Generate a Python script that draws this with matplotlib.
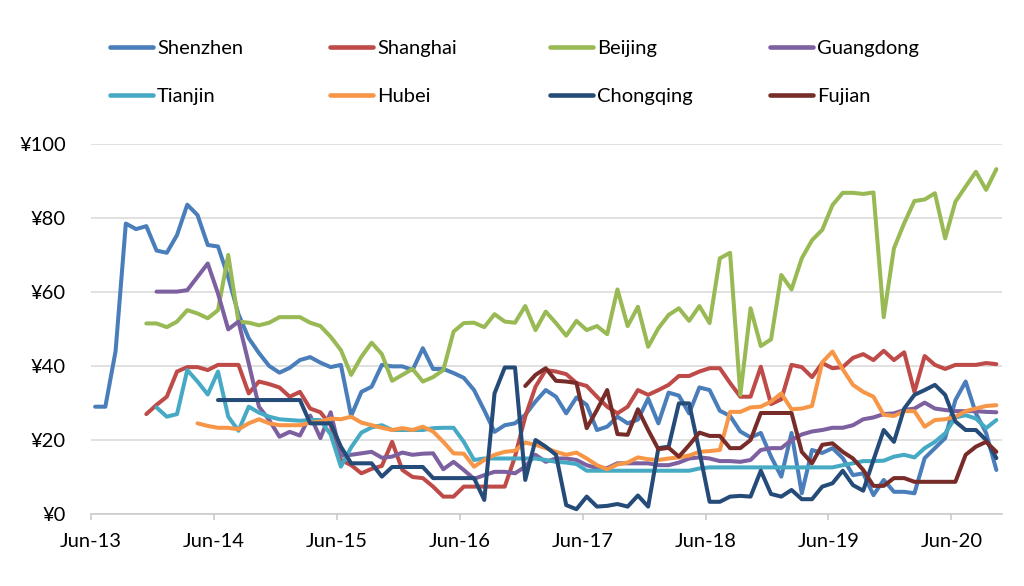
import numpy as np
import matplotlib
matplotlib.use("Agg")
import matplotlib.pyplot as plt

plt.rcParams['font.family'] = ['Lato', 'DejaVu Sans']

# ---- data (monthly, month index 0 = Jun-13) ----
tick_labels = ['Jun-13', 'Jun-14', 'Jun-15', 'Jun-16', 'Jun-17', 'Jun-18', 'Jun-19', 'Jun-20']
y_ticks = [0, 20, 40, 60, 80, 100]

shenzhen_start = 0
shenzhen = [29, 29, 44, 78.5, 77, 77.8, 71.2, 70.6, 75.4, 83.6,
            80.8, 72.7, 72.3, 64, 54, 47.5, 43.5, 40, 38.2, 39.5,
            41.6, 42.4, 40.9, 39.7, 40.3, 26.5, 33, 34.4, 40.3, 39.9,
            39.9, 38.9, 44.8, 39.2, 39.2, 38.1, 36.8, 33.5, 28, 22.2,
            24, 24.5, 26.8, 30.4, 33.5, 31.7, 27.2, 31.5, 29.5, 22.7,
            23.6, 26.3, 24.5, 25.5, 31.2, 24.5, 32.8, 32, 27.2, 34.2,
            33.5, 27.9, 26.5, 22.3, 20.7, 21.9, 15.5, 10.1, 21.9, 5.6,
            17.3, 16.5, 17.8, 15.1, 10.5, 11, 5.1, 9.2, 6, 6,
            5.6, 15.1, 17.8, 20.5, 30.8, 35.8, 27.2, 21.9, 11.9]

shanghai_start = 5
shanghai = [27, 29.5, 31.7, 38.5, 39.7, 39.7, 38.9, 40.3, 40.3, 40.3,
            32.6, 35.8, 35.1, 34.2, 31.7, 33, 28.5, 27.5, 24, 14.6,
            13.2, 11, 12.2, 13, 19.5, 11.9, 10, 9.7, 7.4, 4.7,
            4.7, 7.4, 7.4, 7.4, 7.4, 7.4, 15.5, 26.3, 34.4, 38.9,
            38.5, 37.8, 35.4, 34.6, 31.7, 29, 27.2, 29, 33.5, 32.2,
            33.5, 34.9, 37.3, 37.3, 38.5, 39.4, 39.4, 35.4, 31.7, 31.7,
            39.8, 29.7, 31, 40.3, 39.7, 37, 40.8, 39.4, 39.7, 42.2,
            43.2, 41.6, 44.1, 41.6, 43.7, 33, 42.7, 40.3, 39.2, 40.3,
            40.3, 40.3, 40.8, 40.5]

beijing_start = 5
beijing = [51.5, 51.5, 50.5, 52, 55.1, 54.2, 52.9, 55.1, 70, 52,
           51.7, 51, 51.7, 53.2, 53.2, 53.2, 51.7, 50.8, 47.9, 44.3,
           37.6, 42.5, 46.3, 43.2, 36, 37.6, 39.2, 35.8, 37, 38.9,
           49.3, 51.6, 51.7, 50.5, 54, 52, 51.7, 56.2, 49.7, 54.7,
           51.6, 48.2, 52.2, 49.7, 50.8, 48.6, 60.7, 50.8, 56, 45.2,
           50.2, 53.8, 55.6, 52.2, 56.2, 51.6, 69.1, 70.6, 32.2, 55.6,
           45.4, 47.2, 64.6, 60.7, 69.1, 74, 76.8, 83.5, 86.8, 86.8,
           86.5, 86.9, 53.2, 71.8, 78.6, 84.6, 85, 86.7, 74.5, 84.4,
           88.5, 92.5, 87.6, 93.2]

guangdong_start = 6
guangdong = [60.1, 60.1, 60.1, 60.5, 64.1, 67.7, 59.6, 49.9, 52, 40.7,
             29, 25.4, 20.9, 22.2, 21.2, 26.6, 20.5, 27.5, 15.8, 16,
             16.4, 16.8, 15.2, 15.5, 16.6, 16, 16.3, 16.4, 12.1, 14.1,
             11.9, 9.5, 10.5, 11.4, 11.4, 11, 12.8, 16, 14.1, 15,
             15, 14.6, 13.2, 12.4, 12.4, 13.7, 13.7, 13.7, 13.7, 13.2,
             13.2, 13.9, 15, 15.3, 15, 14.3, 14.3, 14.1, 14.6, 17.3,
             17.8, 17.8, 20, 21.5, 22.3, 22.7, 23.3, 23.3, 24, 25.6,
             26.1, 27, 27.2, 28.1, 28.5, 30.1, 28.5, 28.1, 27.8, 27.8,
             27.8, 27.6, 27.5]

tianjin_start = 6
tianjin = [28.8, 26.3, 27, 38.9, 35.8, 32.3, 38.5, 26.3, 22.5, 29,
           27.4, 26.3, 25.6, 25.4, 25.2, 25.4, 25.4, 21.5, 12.8, 18,
           22, 23.4, 24, 22.7, 22.7, 22.7, 22.7, 23.2, 23.3, 23.3,
           19.5, 14.6, 15, 15, 15, 15, 15, 15, 14.6, 14.1,
           13.9, 13.5, 11.7, 11.7, 11.7, 11.7, 11.7, 11.7, 11.7, 11.7,
           11.7, 11.7, 11.7, 12.3, 12.6, 12.6, 12.6, 12.6, 12.6, 12.6,
           12.6, 12.6, 12.6, 12.6, 12.6, 12.6, 12.6, 13.2, 13.7, 14.3,
           14.3, 14.4, 15.5, 16, 15.3, 17.8, 19.5, 21.8, 26.1, 26.7,
           25.8, 23.2, 25.4]

hubei_start = 10
hubei = [24.5, 23.8, 23.3, 23.3, 22.9, 24.5, 25.6, 24.5, 24, 24,
         24, 24.7, 25, 25.8, 25.6, 26.3, 24.7, 24, 23.3, 22.7,
         23.2, 22.7, 23.6, 22.3, 19.5, 16.4, 16.3, 12.8, 14.6, 16,
         16.8, 17.1, 19.3, 18.7, 17.8, 16.8, 16, 16.6, 15, 13.2,
         12.1, 13.4, 13.9, 15.3, 14.8, 14.6, 15, 15.3, 15.8, 16.8,
         17, 17.3, 27.6, 27.6, 28.8, 29, 30.4, 32.6, 28.3, 28.5,
         29.2, 41, 43.9, 39.1, 34.9, 33, 31.7, 26.8, 26.5, 27.8,
         27.8, 23.6, 25.4, 25.6, 26.3, 27.8, 28.5, 29.2, 29.4]

chongqing_start = 12
chongqing = [30.8, 30.8, 30.8, 30.8, 30.8, 30.8, 30.8, 30.8, 30.8, 24.5,
             24.5, 24.5, 18.2, 13.7, 13.7, 13.7, 10.1, 12.7, 12.7, 12.7,
             12.7, 9.7, 9.7, 9.7, 9.7, 9.7, 3.8, 32.6, 39.6, 39.6,
             9.2, 20, 18.2, 16, 2.4, 1.3, 4.7, 2, 2.2, 2.7,
             2, 5, 2, 17.8, 18.2, 29.9, 29.9, 17, 3.3, 3.3,
             4.7, 4.9, 4.7, 11.7, 5.4, 4.7, 6.5, 4, 4, 7.4,
             8.3, 11.7, 7.8, 6.3, 14.6, 22.7, 19.5, 28.5, 32.2, 33.5,
             34.9, 32.2, 25, 22.7, 22.7, 20, 15.1]

fujian_start = 42
fujian = [34.6, 37.6, 39.4, 36, 35.8, 35.4, 23.2, 28.1, 33.5, 21.6,
          21.4, 28.3, 22.7, 17.5, 17.9, 15.5, 18.6, 22, 21.1, 21.1,
          17.8, 17.8, 20, 27.3, 27.3, 27.3, 27.3, 16.8, 13.7, 18.7,
          19.1, 16.8, 15, 11.9, 7.6, 7.6, 9.7, 9.7, 8.7, 8.7,
          8.7, 8.7, 8.7, 16, 18.2, 19.5, 16.8]

series = [
    ('Shenzhen', shenzhen_start, shenzhen, '#4A7EBB'),
    ('Shanghai', shanghai_start, shanghai, '#BE4B48'),
    ('Beijing', beijing_start, beijing, '#98B954'),
    ('Guangdong', guangdong_start, guangdong, '#7D60A0'),
    ('Tianjin', tianjin_start, tianjin, '#46AAC5'),
    ('Hubei', hubei_start, hubei, '#F79646'),
    ('Chongqing', chongqing_start, chongqing, '#254B79'),
    ('Fujian', fujian_start, fujian, '#772C2A'),
]

W, H = 1024, 586
fig = plt.figure(figsize=(W / 100, H / 100), dpi=100)
ax = fig.add_axes([91 / W, (H - 514) / H, (1002 - 91) / W, (514 - 144) / H])

lines = {}
for name, start, vals, col in series:
    x = start + np.arange(len(vals)) + 0.4
    ln, = ax.plot(x, vals, color=col, lw=2.9, solid_joinstyle='round',
                  solid_capstyle='round', label=name, clip_on=False)
    lines[name] = ln

fs = 14.5
ax.set_xlim(0, 88.95)
ax.set_ylim(0, 100)
ax.set_yticks(y_ticks)
ax.set_yticklabels(['¥%d' % v for v in y_ticks])
ax.set_xticks(np.arange(len(tick_labels)) * 12)
ax.set_xticklabels(tick_labels)

ax.grid(axis='y', color='#D9D9D9', lw=1.1)
ax.set_axisbelow(True)
for s in ['top', 'right', 'left']:
    ax.spines[s].set_visible(False)
ax.spines['bottom'].set_color('#C8C8C8')
ax.spines['bottom'].set_linewidth(1.1)
ax.tick_params(axis='y', length=0, pad=18, labelsize=fs, colors='black')
ax.tick_params(axis='x', length=4, width=1.1, color='#C8C8C8', pad=9.5,
               labelsize=fs, labelcolor='black')

# legend: 4 columns x 2 rows, columns evenly spaced
cols = [['Shenzhen', 'Tianjin'], ['Shanghai', 'Hubei'],
        ['Beijing', 'Chongqing'], ['Guangdong', 'Fujian']]
fpx = fs * 100 / 72
for k, names in enumerate(cols):
    leg = fig.legend([lines[n] for n in names], names,
                     loc='upper left',
                     bbox_to_anchor=((110 + 220 * k) / W, 1 - 40 / H),
                     frameon=False, fontsize=fs, ncol=1,
                     handlelength=43 / fpx, handletextpad=4 / fpx,
                     labelspacing=(51 - fpx) / fpx,
                     borderpad=0, borderaxespad=0)
    for l in leg.get_lines():
        l.set_linewidth(3.3)

fig.savefig('out.png', dpi=100)
